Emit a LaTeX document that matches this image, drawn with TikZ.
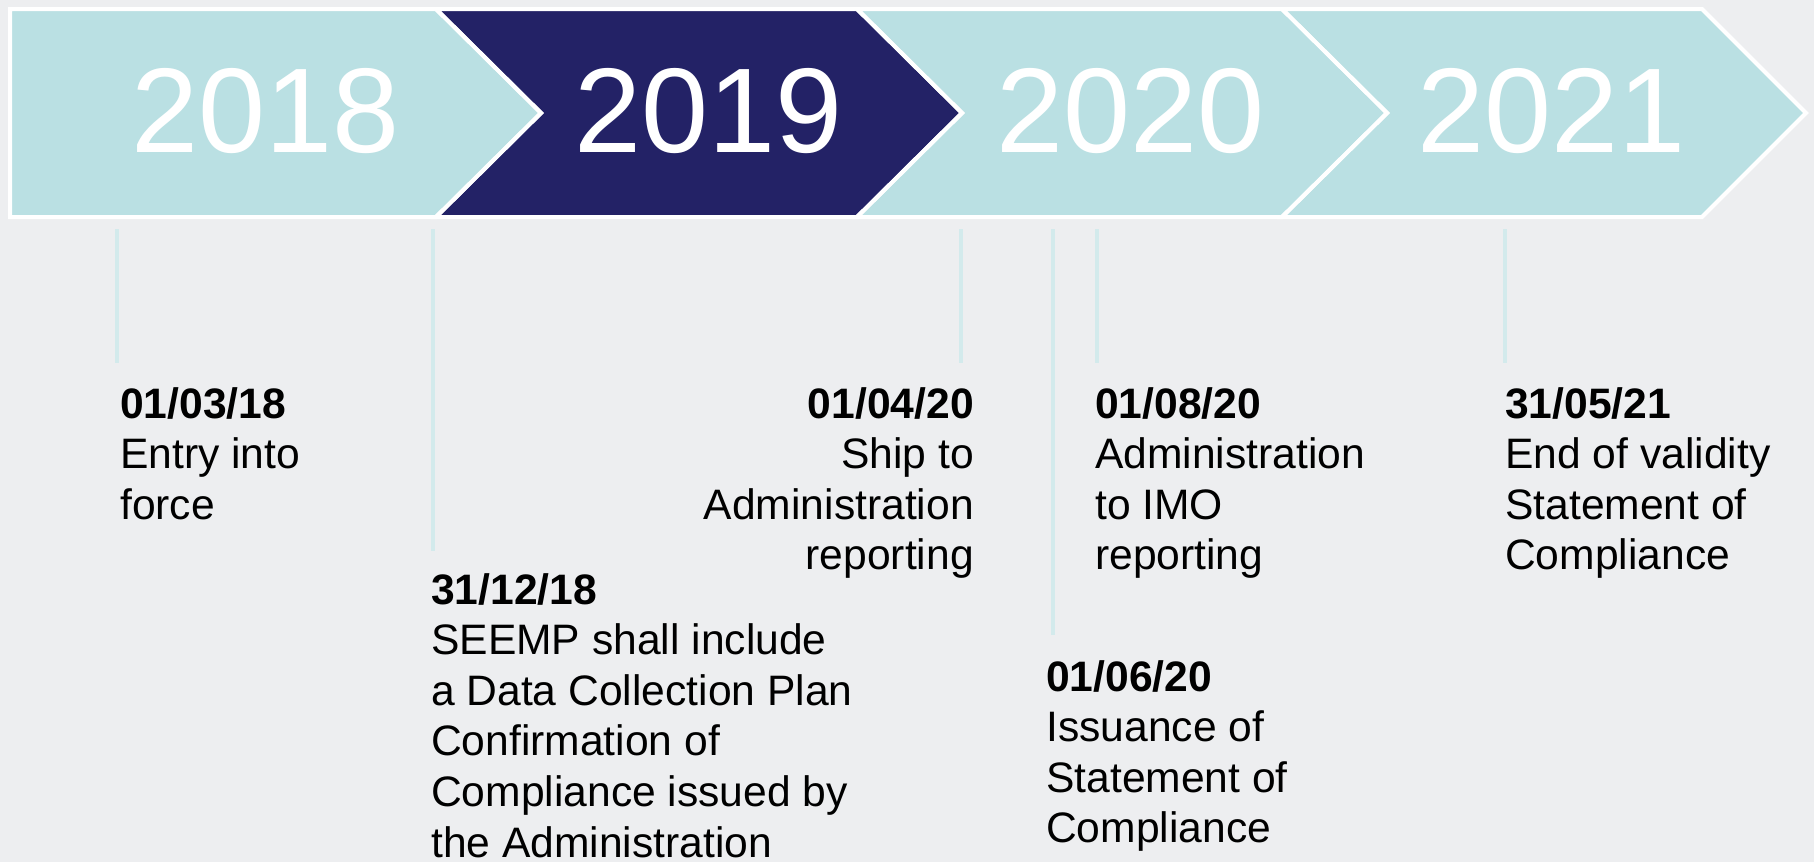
\documentclass[tikz,border=0pt]{standalone}
\usepackage{fontspec}
\setmainfont{Liberation Sans}
\definecolor{bgc}{HTML}{EDEEF0}
\definecolor{teallt}{HTML}{BAE0E3}
\definecolor{navyc}{HTML}{232266}
\definecolor{tickc}{HTML}{D3EAEC}
\begin{document}
\begin{tikzpicture}[x=1pt,y=-1pt,
  chevline/.style={draw=white,line width=4pt,line join=miter},
  year/.style={text=white,font=\fontsize{120.5}{120.5}\selectfont,inner sep=0pt,anchor=base},
  tick/.style={draw=tickc,line width=4.5pt},
  lbl/.style={font=\fontsize{42.6}{50.6}\selectfont,align=left,inner sep=0pt,anchor=north west,text=black},
  lblr/.style={font=\fontsize{42.6}{50.6}\selectfont,align=right,inner sep=0pt,anchor=north east,text=black}]
\useasboundingbox[fill=bgc] (0,0) rectangle (1814,862);
% fills
\fill[teallt] (10,9) -- (436,9) -- (541,113) -- (436,217) -- (10,217) -- cycle;
\fill[navyc] (436,9) -- (857,9) -- (962,113) -- (857,217) -- (436,217) -- (541,113) -- cycle;
\fill[teallt] (857,9) -- (1282,9) -- (1387,113) -- (1282,217) -- (857,217) -- (962,113) -- cycle;
\fill[teallt] (1282,9) -- (1702,9) -- (1806,113) -- (1702,217) -- (1282,217) -- (1387,113) -- cycle;
% outlines
\draw[chevline] (10,9) -- (436,9) -- (541,113) -- (436,217) -- (10,217) -- cycle;
\draw[chevline] (436,9) -- (857,9) -- (962,113) -- (857,217) -- (436,217) -- (541,113) -- cycle;
\draw[chevline] (857,9) -- (1282,9) -- (1387,113) -- (1282,217) -- (857,217) -- (962,113) -- cycle;
\draw[chevline] (1282,9) -- (1702,9) -- (1806,113) -- (1702,217) -- (1282,217) -- (1387,113) -- cycle;
% years
\node[year] (y2018) at (266,152) {2018};
\node[year] (y2019) at (709,152) {2019};
\node[year] (y2020) at (1131,152) {2020};
\node[year] (y2021) at (1552,152) {2021};
% ticks
\coordinate (t1a) at (117,229); \coordinate (t1b) at (117,363);
\coordinate (t2a) at (433,229); \coordinate (t2b) at (433,551);
\coordinate (t3a) at (961,229); \coordinate (t3b) at (961,363);
\coordinate (t4a) at (1053,229); \coordinate (t4b) at (1053,635);
\coordinate (t5a) at (1097,229); \coordinate (t5b) at (1097,363);
\coordinate (t6a) at (1505,229); \coordinate (t6b) at (1505,363);
\draw[tick] (t1a) -- (t1b);
\draw[tick] (t2a) -- (t2b);
\draw[tick] (t3a) -- (t3b);
\draw[tick] (t4a) -- (t4b);
\draw[tick] (t5a) -- (t5b);
\draw[tick] (t6a) -- (t6b);
% labels
\node[lbl] (l1) at (120,387) {\textbf{01/03/18}\\Entry into\\force};
\node[lbl] (l2) at (431,573) {\textbf{31/12/18}\\SEEMP shall include\\a Data Collection Plan\\Confirmation of\\Compliance issued by\\the Administration};
\node[lblr] (l3) at (974,387) {\textbf{01/04/20}\\Ship to\\Administration\\reporting};
\node[lbl] (l4) at (1095,387) {\textbf{01/08/20}\\Administration\\to IMO\\reporting};
\node[lbl] (l5) at (1505,387) {\textbf{31/05/21}\\End of validity\\Statement of\\Compliance};
\node[lbl] (l6) at (1046,660) {\textbf{01/06/20}\\Issuance of\\Statement of\\Compliance};
\end{tikzpicture}
\end{document}
